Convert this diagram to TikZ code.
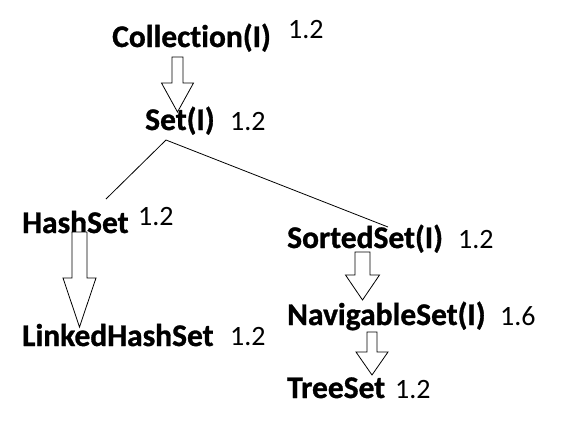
\documentclass[tikz,border=0pt]{standalone}
\usepackage{fontspec}
\setmainfont{Carlito}[Ligatures=NoCommon,BoldFeatures={FakeBold=1}]
\usetikzlibrary{calc}
\tikzset{
  iface/.style={anchor=base west,inner sep=0pt,font=\fontsize{31.5}{32}\selectfont\bfseries},
  ver/.style={anchor=base west,inner sep=0pt,font=\fontsize{28}{28}\selectfont},
  fat/.style={draw,thick,fill=white,line join=miter},
}
% hollow block arrow: start, shaft length, head length, shaft half width, head half width
\newcommand{\fatarrow}[5]{%
  \draw[fat] ([shift={(-#4,0)}]#1) -- ++(0,#2) -- ++({#4-#5},0) -- ++(#5,#3)
    -- ++(#5,-#3) -- ++({#4-#5},0) -- ++(0,-#2) -- cycle;}
\begin{document}
\begin{tikzpicture}[x=1pt,y=-1pt]
            \useasboundingbox (0,0) rectangle (578,440);
            %ラベル
            \node[iface] (coll) at (112,47) {Collection(I)};
            \node[ver] (collv) at (288,38) {1.2};
            \node[iface] (set) at (145,130) {Set(I)};
            \node[ver] (setv) at (230,130) {1.2};
            \node[iface] (hash) at (22,233) {HashSet};
            \node[ver] (hashv) at (138,225) {1.2};
            \node[iface] (linked) at (22,346) {LinkedHashSet};
            \node[ver] (linkedv) at (230,345) {1.2};
            \node[iface] (sorted) at (287,248) {SortedSet(I)};
            \node[ver] (sortedv) at (458,248) {1.2};
            \node[iface] (nav) at (287,325) {NavigableSet(I)};
            \node[ver] (navv) at (500,325) {1.6};
            \node[iface] (tree) at (287,398) {TreeSet};
            \node[ver] (treev) at (395,398) {1.2};
            %枝分かれ
            \coordinate (apex) at (166,140);
            \coordinate (hashend) at (106,199);
            \coordinate (sortedend) at (388,227);
            \draw[thick] (hashend)--(apex)--(sortedend);
            %継承の矢印
            \coordinate (a1) at (177.5,57);
            \coordinate (a2) at (79.5,232);
            \coordinate (a3) at (362.5,252);
            \coordinate (a4) at (372,332);
            \fatarrow{a1}{26}{29}{5.5}{16}
            \fatarrow{a2}{46}{49}{7.5}{16.5}
            \fatarrow{a3}{23}{25}{7.5}{17}
            \fatarrow{a4}{20}{23}{5}{16}
        \end{tikzpicture}
\end{document}
